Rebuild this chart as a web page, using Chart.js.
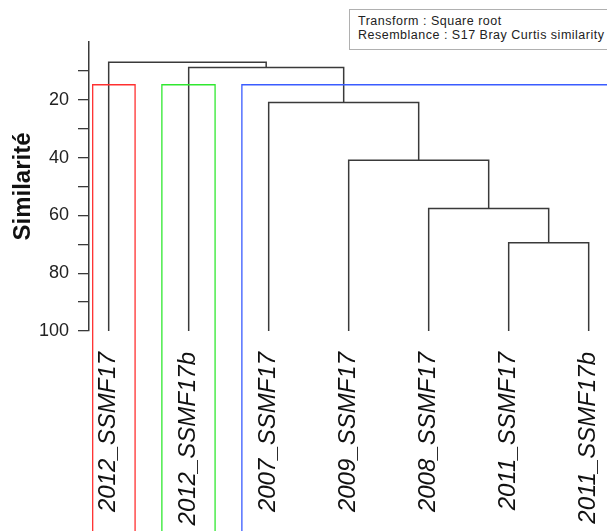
<!DOCTYPE html>
<html>
<head>
<meta charset="utf-8">
<script src="https://cdn.jsdelivr.net/npm/chart.js@4.4.0/dist/chart.umd.min.js"></script>
<style>
    html, body { margin: 0; padding: 0; background: #fff; overflow: hidden; }
    #wrap { position: relative; width: 607px; height: 531px; }
    #note {
        position: absolute; left: 349px; top: 9px; width: 280px; height: 41px;
        border: 1px solid #b0b0b0; padding: 4px 0 0 8px; box-sizing: border-box;
        font: 12.5px "Liberation Sans", Arial, sans-serif; line-height: 14px; color: #222;
        letter-spacing: 0.5px; white-space: nowrap; background: #fff;
    }
</style>
</head>
<body>
<div id="wrap">
    <canvas id="dendro" width="607" height="531"></canvas>
    <div id="note">Transform : Square root<br>Resemblance : S17 Bray Curtis similarity</div>
</div>
<script>
// Leaves, left to right
var leaves = ['2012_SSMF17', '2012_SSMF17b', '2007_SSMF17', '2009_SSMF17', '2008_SSMF17', '2011_SSMF17', '2011_SSMF17b'];

// Merges: ids 0..6 are leaves, merge k creates node 7 + k
var mergeLeft = [5, 4, 3, 2, 1, 0];
var mergeRight = [6, 7, 8, 9, 10, 11];
var mergeLevel = [69.5, 57.6, 40.9, 20.9, 8.8, 7.0];

// Similarity axis
var yTicks = [0, 10, 20, 30, 40, 50, 60, 70, 80, 90, 100];
var yLabels = [20, 40, 60, 80, 100];

// Groups cut at the slice level
var cutLevel = 14.8;
var groupStart = [-0.2, 0.665, 1.665];
var groupEnd = [0.33, 1.33, 6.6];
var groupColor = ['#ff3030', '#30e830', '#3a5cff'];
var groupBottom = 175;

// positions of every node (leaf index for x, similarity for y)
var nodeX = leaves.map(function(_, i) { return i; });
var nodeY = leaves.map(function() { return 100; });
for (var k = 0; k < mergeLevel.length; k++) {
    nodeX.push((nodeX[mergeLeft[k]] + nodeX[mergeRight[k]]) / 2);
    nodeY.push(mergeLevel[k]);
}

var datasets = [];

// Group boxes
for (var g = 0; g < groupStart.length; g++) {
    datasets.push({
        data: [
            {x: groupStart[g], y: groupBottom},
            {x: groupStart[g], y: cutLevel},
            {x: groupEnd[g], y: cutLevel},
            {x: groupEnd[g], y: groupBottom}
        ],
        borderColor: groupColor[g],
        borderWidth: 1.3,
        showLine: true,
        pointRadius: 0,
        clip: false
    });
}

// Dendrogram branches
for (var m = 0; m < mergeLevel.length; m++) {
    var a = mergeLeft[m], b = mergeRight[m];
    datasets.push({
        data: [
            {x: nodeX[a], y: nodeY[a]},
            {x: nodeX[a], y: mergeLevel[m]},
            {x: nodeX[b], y: mergeLevel[m]},
            {x: nodeX[b], y: nodeY[b]}
        ],
        borderColor: '#3a3a3a',
        borderWidth: 1.5,
        showLine: true,
        pointRadius: 0
    });
}

var ctx = document.getElementById('dendro').getContext('2d');
var chart = new Chart(ctx, {
    type: 'scatter',
    data: { datasets: datasets },
    options: {
        responsive: false,
        animation: false,
        layout: { padding: { top: 42, left: 0, right: 0, bottom: 0 } },
        plugins: {
            legend: { display: false },
            tooltip: { enabled: false }
        },
        scales: {
            x: {
                type: 'linear',
                position: 'bottom',
                min: -0.246,
                max: 6.229,
                grid: { display: false },
                border: { display: false },
                afterBuildTicks: function(scale) {
                    scale.ticks = leaves.map(function(_, i) { return {value: i}; });
                },
                afterFit: function(scale) {
                    scale.height = 200;
                    scale.paddingLeft = 0;
                    scale.paddingRight = 0;
                },
                ticks: {
                    autoSkip: false,
                    minRotation: 90,
                    maxRotation: 90,
                    padding: 13,
                    color: '#111',
                    font: { family: '"Liberation Sans", Arial, sans-serif', size: 24, style: 'italic' },
                    callback: function(value) { return leaves[value]; }
                }
            },
            y: {
                type: 'linear',
                reverse: true,
                min: 0,
                max: 100,
                afterBuildTicks: function(scale) {
                    scale.ticks = yTicks.map(function(v) { return {value: v}; });
                },
                afterFit: function(scale) {
                    scale.width = 89;
                    scale.paddingTop = 0;
                    scale.paddingBottom = 0;
                },
                grid: {
                    drawOnChartArea: false,
                    drawTicks: true,
                    tickLength: 11,
                    lineWidth: 1.3,
                    color: function(c) { return c.tick && c.tick.value === 0 ? 'rgba(0,0,0,0)' : '#3a3a3a'; }
                },
                border: { display: true, color: '#3a3a3a', width: 1.5 },
                ticks: {
                    padding: 9,
                    color: '#222',
                    font: { family: '"Liberation Sans", Arial, sans-serif', size: 18 },
                    callback: function(value) { return yLabels.indexOf(value) >= 0 ? value : ''; }
                },
                title: {
                    display: true,
                    text: 'Similarité',
                    color: '#111',
                    padding: { top: 9 },
                    font: { family: '"Liberation Sans", Arial, sans-serif', size: 24, weight: 'bold' }
                }
            }
        }
    }
});
</script>
</body>
</html>
